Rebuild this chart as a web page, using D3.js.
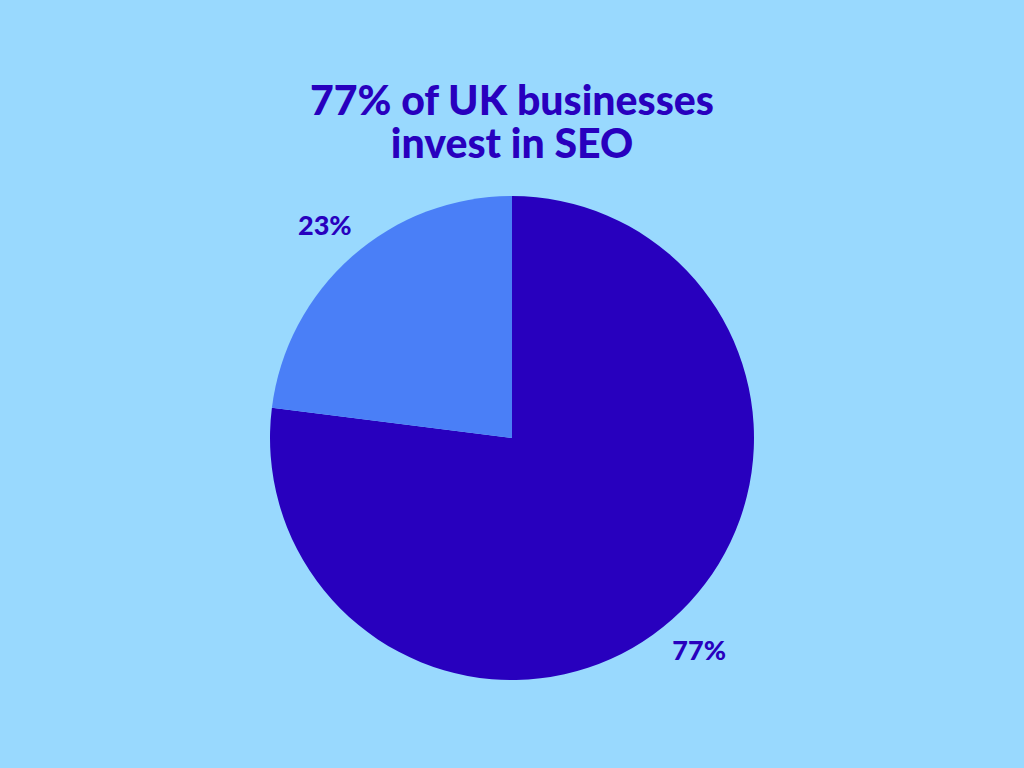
<!DOCTYPE html>
<html>
<head>
<meta charset="utf-8">
<script src="https://cdn.jsdelivr.net/npm/d3@7"></script>
<style>
  html, body { margin: 0; padding: 0; background: #99d9fe; }
  svg { display: block; }
</style>
</head>
<body>
<script>
// chart data
const categories = ["Invest in SEO", "Do not invest"];
const values = [77, 23];
const labels = ["77%", "23%"];
const titleLines = ["77% of UK businesses", "invest in SEO"];
const colors = ["#2800be", "#4a7ff7"];

const width = 1024, height = 768;
const cx = 512, cy = 438, radius = 242;
const textColor = "#2800be";

const svg = d3.select("body").append("svg")
    .attr("width", width)
    .attr("height", height)
    .attr("viewBox", [0, 0, width, height]);

svg.append("rect")
    .attr("width", width)
    .attr("height", height)
    .attr("fill", "#99d9fe");

// title, two lines
svg.append("text")
    .attr("font-family", "Lato, 'Open Sans', sans-serif")
    .attr("font-weight", 900)
    .attr("font-size", 41)
    .attr("fill", textColor)
    .attr("text-anchor", "middle")
    .selectAll("tspan")
    .data(titleLines)
    .join("tspan")
    .attr("x", cx)
    .attr("y", (d, i) => 115 + i * 43)
    .text(d => d);

const pie = d3.pie()
    .sort(null)
    .value(d => d.value);

const data = pie(categories.map((c, i) => ({cat: c, value: values[i], label: labels[i]})));

const arc = d3.arc().innerRadius(0).outerRadius(radius);
const labelArc = d3.arc().innerRadius(283).outerRadius(283);

const g = svg.append("g").attr("transform", `translate(${cx},${cy})`);

g.selectAll("path")
    .data(data)
    .join("path")
    .attr("d", arc)
    .attr("fill", (d, i) => colors[i]);

g.selectAll("text")
    .data(data)
    .join("text")
    .attr("transform", d => `translate(${labelArc.centroid(d)})`)
    .attr("text-anchor", "middle")
    .attr("dy", "0.35em")
    .attr("font-family", "Lato, 'Open Sans', sans-serif")
    .attr("font-weight", 900)
    .attr("font-size", 27)
    .attr("fill", textColor)
    .text(d => d.data.label);
</script>
</body>
</html>
